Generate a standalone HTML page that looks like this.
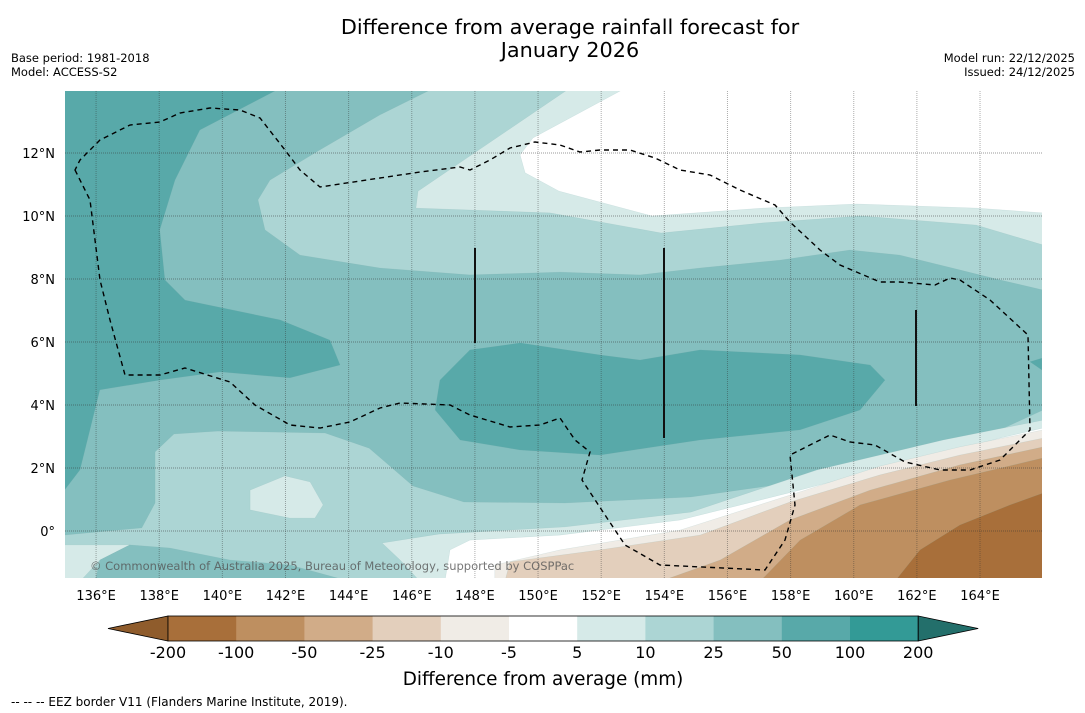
<!DOCTYPE html>
<html><head><meta charset="utf-8">
<style>
body{margin:0;background:#fff;width:1085px;height:713px;overflow:hidden;font-family:"DejaVu Sans","Liberation Sans",sans-serif;}
svg{display:block;font-family:"DejaVu Sans","Liberation Sans",sans-serif}
</style></head>
<body>
<svg id="chart" width="1085" height="713" xmlns="http://www.w3.org/2000/svg">
<text x="570" y="34" text-anchor="middle" font-size="20.8">Difference from average rainfall forecast for</text>
<text x="570" y="57" text-anchor="middle" font-size="20.8">January 2026</text>
<text x="11" y="62" font-size="11.5">Base period: 1981-2018</text>
<text x="11" y="76" font-size="11.5">Model: ACCESS-S2</text>
<text x="1075" y="62" font-size="11.5" text-anchor="end">Model run: 22/12/2025</text>
<text x="1075" y="76" font-size="11.5" text-anchor="end">Issued: 24/12/2025</text>
<defs><clipPath id="mapclip"><rect x="65" y="91" width="977" height="487"/></clipPath></defs>
<g id="map" clip-path="url(#mapclip)"></g>
<g id="overlay"></g>
<g id="cbar"></g>
<text x="543" y="685" text-anchor="middle" font-size="18.4">Difference from average (mm)</text>
<text x="11" y="706" font-size="12">--  --  -- EEZ border V11 (Flanders Marine Institute, 2019).</text>
</svg>
<script>
const levelLabels = ["-200","-100","-50","-25","-10","-5","5","10","25","50","100","200"];
const levelColors = ["#a86f3a","#be8f60","#d1ac88","#e3cfbc","#f0ece6","#ffffff","#d6eae8","#acd5d4","#84bfbf","#58a9a9","#339a96"];
const lonTicks = [136,138,140,142,144,146,148,150,152,154,156,158,160,162,164];
const latTicks = [0,2,4,6,8,10,12];

const cDark1 = [[135,14],[141.67,13.97],[139.29,12.73],[138.5,11.14],[138.02,9.56],[138.18,7.97],[138.82,7.33],[141.83,6.7],[143.41,6.06],[143.73,5.27],[142.14,4.86],[139.93,5.05],[138.02,4.79],[136.12,4.48],[135.49,1.94],[135,1.3]];
const cDark2 = [[146.89,4.79],[147.84,5.75],[149.43,5.97],[151.96,5.59],[153.23,5.43],[155.13,5.75],[158.3,5.59],[160.52,5.27],[160.99,4.79],[160.2,3.84],[158.3,3.21],[155.13,2.89],[151.96,2.41],[149.43,2.57],[147.53,2.89],[146.74,3.84]];
const cDark3 = [[165.96,5.49],[165.58,5.37],[165.96,5.11]];
const cUp25 = [[146.58,14],[144.99,13.21],[143.09,12.1],[141.51,11.14],[141.13,10.51],[141.35,9.56],[142.46,8.76],[144.99,8.35],[147.84,8.13],[150.7,8.22],[153.23,8.13],[155.13,8.35],[157.67,8.6],[159.88,8.92],[161.46,8.76],[163.36,8.29],[164.63,7.97],[166,7.65],[166,14]];
const cUp10 = [[150.92,14],[146.2,10.79],[146.13,10.25],[150.38,10.1],[153.9,9.46],[157.13,9.78],[160.23,10.0],[163.88,9.71],[166,9.08],[166,14]];
const cUpW = [[152.66,14],[149.84,12.48],[149.43,11.94],[149.59,11.37],[150.66,10.79],[153.61,10.0],[157.13,10.25],[160.1,10.38],[163.88,10.25],[166,10.1],[166,14]];
const cLo25 = [[135,-0.13],[137.45,0.1],[137.87,0.89],[137.87,2.51],[138.47,3.08],[139.86,3.17],[143.25,3.11],[144.65,2.63],[146.04,1.43],[147.65,0.92],[150.85,0.89],[154.84,1.08],[158.84,1.65],[162.83,2.63],[164.63,3.21],[166,3.84],[166,-1.6],[135,-1.6]];
const cBlob10 = [[140.88,1.3],[141.98,1.75],[142.78,1.56],[143.19,0.83],[142.93,0.41],[142.14,0.41],[140.88,0.67]];
const cBL10 = [[135,-0.44],[137.07,-0.44],[136.12,-0.92],[135.49,-1.6],[135,-1.6]];
const cBL50 = [[136.12,-0.92],[137.07,-0.44],[138.34,-0.54],[140.24,-0.92],[142.14,-1.08],[144.04,-1.6],[135.97,-1.6]];
const cLo10 = [[145.06,-0.38],[146.86,-0.1],[150.85,0.13],[154.84,0.6],[158.84,1.94],[162.83,2.89],[166,3.52],[166,-1.6],[146.26,-1.6],[145.63,-0.92]];
const cLoW = [[147.05,-1.6],[147.21,-0.6],[147.84,-0.29],[150.7,-0.13],[154.5,0.35],[158.3,1.3],[160.83,1.97],[164.63,2.95],[166,3.27],[166,-1.6]];
const cN10 = [[148.63,-1.6],[148.63,-1.08],[150.7,-0.6],[154.5,0.03],[157.98,1.14],[160.83,2.06],[163.36,2.67],[166,3.21],[166,-1.6]];
const cN25 = [[148.95,-1.6],[149.11,-0.98],[151.96,-0.6],[155.13,-0.13],[157.98,0.92],[160.83,1.78],[163.36,2.41],[166,2.95],[166,-1.6]];
const cN50 = [[153.87,-1.6],[155.77,-0.92],[157.98,0.35],[160.52,1.3],[163.36,2.1],[166,2.67],[166,-1.6]];
const cN100 = [[157.03,-1.6],[158.3,-0.29],[160.2,0.83],[163.05,1.62],[166,2.32],[166,-1.6]];
const cN200 = [[161.3,-1.6],[162.1,-0.6],[163.36,0.19],[164.95,0.83],[166,1.21],[166,-1.6]];
const layers = [[9,cDark1],[9,cDark2],[9,cDark3],[7,cUp25],[6,cUp10],[5,cUpW],[7,cLo25],[6,cBlob10],[6,cBL10],[8,cBL50],[6,cLo10],[5,cLoW],[4,cN10],[3,cN25],[2,cN50],[1,cN100],[0,cN200]];

const NS="http://www.w3.org/2000/svg";
const X = lon => 64.5 + (lon-135)*31.57;
const Y = lat => 531 - lat*31.5;
function mk(tag, attrs, parent){const e=document.createElementNS(NS,tag);for(const k in attrs)e.setAttribute(k,attrs[k]);parent.appendChild(e);return e;}
const map=document.getElementById('map');
const bg=mk('rect',{x:65,y:91,width:977,height:487,fill:levelColors[8]},map);


layers.forEach((L,i)=>{
  const p=mk('polygon',{points:L[1].map(q=>X(q[0]).toFixed(1)+','+Y(q[1]).toFixed(1)).join(' '),fill:levelColors[L[0]],stroke:'#7aa',"stroke-width":0.3,"stroke-opacity":0.4},map);
  
  
});
const ov=document.getElementById('overlay');
lonTicks.forEach(l=>{
  const g=mk('line',{x1:X(l),x2:X(l),y1:91,y2:578,stroke:'#333',"stroke-opacity":0.4,"stroke-width":1,"stroke-dasharray":"1 1"},ov);
  
  
  const t=mk('text',{x:X(l),y:600,"text-anchor":"middle","font-size":13},ov);t.textContent=l+'°E';
  
  
});
latTicks.forEach(l=>{
  const g=mk('line',{x1:65,x2:1042,y1:Y(l),y2:Y(l),stroke:'#333',"stroke-opacity":0.5,"stroke-width":1,"stroke-dasharray":"1 1"},ov);
  
  
  const t=mk('text',{x:55,y:Y(l)+5,"text-anchor":"end","font-size":13},ov);t.textContent=(l===0?'0°':l+'°N');
  
  
});
const eez="M75,170 L90,200 L100,280 L110,320 L125,375 L160,375 L185,368 L230,382 L255,405 L290,425 L320,428 L350,422 L380,408 L400,403 L450,405 L470,415 L510,427 L540,425 L560,418 L575,440 L590,452 L582,480 L605,515 L625,545 L660,565 L765,570 L785,540 L795,505 L790,455 L810,445 L830,435 L850,442 L875,445 L905,462 L940,470 L970,470 L1000,460 L1030,430 L1028,335 L990,300 L960,280 L950,278 L935,285 L900,282 L880,282 L840,265 L820,250 L790,222 L775,205 L740,190 L710,175 L680,170 L655,158 L630,150 L600,150 L580,152 L560,145 L535,142 L510,148 L490,160 L470,170 L460,167 L420,172 L380,178 L320,187 L300,170 L285,150 L260,118 L240,110 L210,108 L180,113 L160,122 L130,125 L100,140 L80,160 Z";
const ez=mk('path',{d:eez,fill:'none',stroke:'#000',"stroke-width":1.4,"stroke-dasharray":"5 4"},ov);


[[475,248,343],[664,248,438],[916,310,406]].forEach(v=>{
  const l=mk('line',{x1:v[0],x2:v[0],y1:v[1],y2:v[2],stroke:'#111',"stroke-width":2},ov);
  
  
});
const cp=mk('text',{x:90,y:570,"font-size":11.5,fill:'#555',"fill-opacity":0.8},ov);
cp.textContent='© Commonwealth of Australia 2025, Bureau of Meteorology, supported by COSPPac';



const cb=document.getElementById('cbar');
const cx0=168, cw=68.2, cy=616, ch=25;
const la=mk('polygon',{points:`108,${cy+ch/2} ${cx0},${cy} ${cx0},${cy+ch}`,fill:'#8f5c2c',stroke:'#000',"stroke-width":0.8},cb);


for(let i=0;i<levelColors.length;i++){
  const r=mk('rect',{x:cx0+i*cw,y:cy,width:cw+0.5,height:ch,fill:levelColors[i]},cb);
  
  
}
const xe=cx0+levelColors.length*cw;
const ra=mk('polygon',{points:`${xe},${cy} ${xe+60},${cy+ch/2} ${xe},${cy+ch}`,fill:'#236f6b',stroke:'#000',"stroke-width":0.8},cb);


const fr=mk('rect',{x:cx0,y:cy,width:xe-cx0,height:ch,fill:'none',stroke:'#000',"stroke-width":0.8},cb);


levelLabels.forEach((s,i)=>{
  const t=mk('text',{x:cx0+i*cw,y:658,"text-anchor":"middle","font-size":16},cb);t.textContent=s;
  
  
});
</script>
</body></html>
